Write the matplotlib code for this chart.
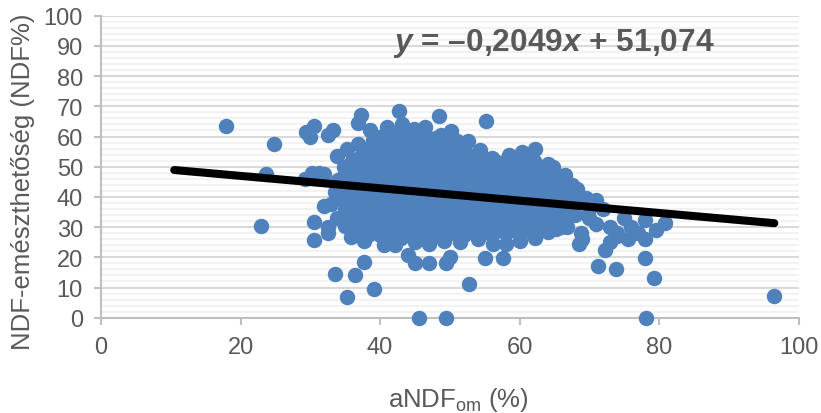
import matplotlib
matplotlib.use("Agg")
import matplotlib.pyplot as plt

plt.rcParams['font.family'] = ['Liberation Sans', 'DejaVu Sans']
plt.rcParams['mathtext.fontset'] = 'custom'
plt.rcParams['mathtext.rm'] = 'Liberation Sans'
plt.rcParams['mathtext.it'] = 'Liberation Sans:italic'
plt.rcParams['mathtext.bf'] = 'Liberation Sans:bold'
plt.rcParams['mathtext.bfit'] = 'Liberation Sans:italic:bold'

# outlying samples read individually
outlier_x = [17.9, 24.8, 23.6, 22.9, 29.4, 30.0, 30.6, 32.5, 33.3, 29.3, 30.3, 31.3, 32.0, 30.5, 30.5,
             32.6, 32.5, 32.0, 33.5, 36.4, 35.2, 37.7, 39.2, 45.6, 49.5, 78.1, 96.5, 52.8, 71.2, 73.8,
             78.0, 79.3, 55.2, 48.5, 42.7, 37.3, 36.9, 80.8, 79.5, 78.0, 75.0, 76.0, 77.0, 72.3, 73.0,
             74.0, 75.5, 78.0, 71.0, 72.0, 73.0, 74.0, 68.5, 69.0, 68.8, 70.0, 71.0, 44.0, 45.0, 47.0,
             49.5, 50.0, 55.0, 57.6, 35.8, 37.7, 40.5, 42.2]
outlier_y = [63.5, 57.5, 47.5, 30.3, 61.5, 60.0, 63.5, 60.5, 62.0, 46.0, 48.0, 48.0, 47.5, 31.7, 25.8,
             28.0, 30.0, 37.0, 14.5, 14.3, 6.7, 18.5, 9.5, 0.0, 0.0, 0.0, 7.3, 11.0, 17.0, 16.0,
             19.7, 13.3, 65.0, 66.7, 68.3, 67.0, 64.5, 31.5, 29.0, 32.5, 33.0, 30.0, 28.0, 22.5, 25.0,
             27.0, 26.0, 26.0, 39.0, 36.0, 30.0, 28.0, 24.5, 26.0, 28.0, 33.0, 31.0, 20.7, 18.0, 18.0,
             18.0, 20.0, 19.7, 19.7, 26.8, 25.5, 24.0, 24.0]

# dense central cloud, read band by band
cloud_x = [38.5, 41.0, 43.2, 44.8, 46.5, 48.8, 50.2,
           36.8, 39.0, 41.0, 43.0, 45.0, 47.0, 49.0, 51.0, 52.6,
           33.8, 35.2, 38.2, 40.0, 42.0, 44.0, 46.0, 48.0, 50.0, 52.0, 54.3, 56.5, 58.5, 60.3, 62.2,
           34.8, 37.0, 39.0, 41.0, 43.0, 45.0, 47.0, 49.0, 51.0, 53.0, 55.0, 57.0, 59.0, 61.0, 63.0, 64.8,
           34.0, 36.0, 38.0, 40.0, 42.0, 44.0, 46.0, 48.0, 50.0, 52.0, 54.0, 56.0, 58.0, 60.0, 62.0, 64.0, 66.5,
           33.5, 35.2, 37.2, 39.2, 41.2, 43.2, 45.2, 47.2, 49.2, 51.2, 53.2, 55.2, 57.2, 59.2, 61.2, 63.2, 65.2, 67.0, 68.2,
           33.0, 35.0, 37.0, 39.0, 41.0, 43.0, 45.0, 47.0, 49.0, 51.0, 53.0, 55.0, 57.0, 59.0, 61.0, 63.0, 65.0, 67.0, 69.0, 70.3,
           33.8, 36.0, 38.0, 40.0, 42.0, 44.0, 46.0, 48.0, 50.0, 52.0, 54.0, 56.0, 58.0, 60.0, 62.0, 64.0, 66.0, 68.0, 69.8,
           35.0, 37.2, 39.2, 41.2, 43.2, 45.2, 47.2, 49.2, 51.2, 53.2, 55.2, 57.2, 59.2, 61.2, 63.2, 65.2, 66.8,
           38.2, 40.5, 43.0, 45.0, 47.0, 49.2, 51.5, 54.0, 56.2, 58.0, 60.0, 62.2, 64.0]
cloud_y = [62.0, 63.0, 64.0, 62.5, 63.0, 60.5, 61.8,
           57.5, 59.0, 58.0, 60.0, 59.0, 59.5, 58.0, 58.5, 58.5,
           53.7, 56.0, 55.0, 54.0, 55.0, 56.0, 54.5, 55.0, 54.0, 54.5, 55.5, 52.0, 54.0, 55.0, 56.0,
           50.0, 50.5, 50.0, 51.0, 50.0, 50.5, 49.5, 50.0, 50.5, 50.0, 49.5, 51.0, 50.0, 49.5, 50.0, 50.0,
           45.5, 46.0, 45.0, 46.0, 45.0, 46.0, 45.0, 46.0, 45.0, 46.0, 45.5, 45.0, 46.0, 45.0, 46.0, 45.5, 47.3,
           41.5, 42.0, 41.0, 42.0, 41.0, 42.0, 41.0, 42.0, 41.0, 42.0, 41.0, 42.0, 41.0, 42.0, 41.0, 42.0, 41.0, 41.5, 42.5,
           37.5, 38.0, 37.0, 38.0, 37.0, 38.0, 37.0, 38.0, 37.0, 38.0, 37.0, 38.0, 37.0, 38.0, 37.0, 38.0, 37.0, 38.0, 38.5, 37.0,
           33.0, 34.0, 33.0, 34.0, 33.0, 34.0, 33.0, 34.0, 33.0, 34.0, 33.0, 34.0, 33.0, 34.0, 33.0, 34.0, 33.0, 34.0, 34.0,
           30.5, 29.5, 30.0, 29.0, 30.0, 29.0, 30.0, 29.0, 30.0, 29.0, 30.0, 29.0, 30.0, 29.0, 30.0, 29.5, 30.0,
           27.5, 26.0, 26.5, 25.0, 24.5, 25.5, 25.0, 26.0, 24.5, 24.5, 25.5, 26.5, 28.5]

# further samples packed between the bands of the cloud
fill_x = [40.0, 42.0, 44.0, 46.0, 48.0, 50.0,
          38.0, 40.0, 42.0, 44.0, 46.0, 48.0, 50.0, 52.0, 54.0, 56.0, 58.0, 60.0,
          36.0, 38.0, 40.0, 42.0, 44.0, 46.0, 48.0, 50.0, 52.0, 54.0, 56.0, 58.0, 60.0, 62.0, 64.0,
          35.0, 37.0, 39.0, 41.0, 43.0, 45.0, 47.0, 49.0, 51.0, 53.0, 55.0, 57.0, 59.0, 61.0, 63.0, 65.0,
          34.5, 36.0, 38.0, 40.0, 42.0, 44.0, 46.0, 48.0, 50.0, 52.0, 54.0, 56.0, 58.0, 60.0, 62.0, 64.0, 66.0, 67.5,
          34.0, 36.0, 38.0, 40.0, 42.0, 44.0, 46.0, 48.0, 50.0, 52.0, 54.0, 56.0, 58.0, 60.0, 62.0, 64.0, 66.0, 68.0, 69.5,
          35.0, 37.0, 39.0, 41.0, 43.0, 45.0, 47.0, 49.0, 51.0, 53.0, 55.0, 57.0, 59.0, 61.0, 63.0, 65.0, 67.0,
          37.0, 39.0, 41.0, 43.0, 45.0, 47.0, 49.0, 51.0, 53.0, 55.0, 57.0, 59.0, 61.0, 63.0, 65.0,
          40.0, 42.0, 44.0, 46.0, 48.0, 50.0, 52.0, 54.0, 56.0, 58.0, 60.0]
fill_y = [60.0, 61.0, 60.5, 60.0, 59.5, 60.0,
          56.0, 56.5, 57.0, 57.5, 57.0, 56.5, 56.0, 56.0, 54.5, 53.0, 52.0, 53.0,
          52.0, 52.5, 52.5, 52.0, 52.5, 52.5, 52.0, 52.5, 52.5, 52.0, 52.5, 52.0, 52.0, 52.0, 51.0,
          48.0, 48.0, 47.5, 48.0, 48.0, 47.5, 48.0, 48.0, 47.5, 48.0, 48.0, 47.5, 48.0, 48.0, 47.5, 48.0,
          43.5, 44.0, 43.5, 44.0, 43.5, 44.0, 43.5, 44.0, 43.5, 44.0, 43.5, 44.0, 43.5, 44.0, 43.5, 44.0, 43.5, 44.0,
          39.5, 40.0, 39.5, 40.0, 39.5, 40.0, 39.5, 40.0, 39.5, 40.0, 39.5, 40.0, 39.5, 40.0, 39.5, 40.0, 39.5, 40.0, 39.5,
          35.5, 36.0, 35.5, 36.0, 35.5, 36.0, 35.5, 36.0, 35.5, 36.0, 35.5, 36.0, 35.5, 36.0, 35.5, 36.0, 35.5,
          31.5, 32.0, 31.5, 32.0, 31.5, 32.0, 31.5, 32.0, 31.5, 32.0, 31.5, 32.0, 31.5, 32.0, 31.5,
          27.5, 28.0, 27.5, 28.0, 27.5, 28.0, 27.5, 28.0, 27.5, 28.0, 27.5]

# a last layer for the remaining pinholes of the cloud
core_x = [39.0, 41.0, 43.0, 45.0, 47.0, 49.0, 51.0, 53.0,
          37.0, 39.0, 41.0, 43.0, 45.0, 47.0, 49.0, 51.0, 53.0, 55.0, 57.0, 59.0, 61.0, 63.0,
          36.0, 38.0, 40.0, 42.0, 44.0, 46.0, 48.0, 50.0, 52.0, 54.0, 56.0, 58.0, 60.0, 62.0, 64.0, 66.0,
          35.0, 37.0, 39.0, 41.0, 43.0, 45.0, 47.0, 49.0, 51.0, 53.0, 55.0, 57.0, 59.0, 61.0, 63.0, 65.0,
          36.0, 38.0, 40.0, 42.0, 44.0, 46.0, 48.0, 50.0, 52.0, 54.0, 56.0, 58.0, 60.0, 62.0, 64.0, 66.0, 68.0,
          35.0, 37.0, 39.0, 41.0, 43.0, 45.0, 47.0, 49.0, 51.0, 53.0, 55.0, 57.0, 59.0, 61.0, 63.0, 65.0, 67.0,
          36.0, 38.0, 40.0, 42.0, 44.0, 46.0, 48.0, 50.0, 52.0, 54.0, 56.0, 58.0, 60.0, 62.0, 64.0, 66.0,
          41.0, 43.0, 45.0, 47.0, 49.0, 51.0, 53.0, 55.0, 57.0, 59.0]
core_y = [57.0, 55.0, 55.5, 55.0, 55.0, 55.5, 55.0, 53.0,
          53.0, 52.0, 53.5, 53.0, 53.0, 54.0, 53.0, 53.0, 52.5, 51.0, 50.0, 51.5, 52.0, 48.0,
          48.5, 50.0, 49.0, 49.0, 50.0, 49.0, 49.0, 49.5, 49.0, 49.0, 49.5, 48.5, 49.0, 49.0, 47.0, 44.0,
          46.0, 45.5, 45.5, 45.0, 45.5, 45.5, 45.0, 45.5, 45.5, 45.0, 45.5, 45.5, 45.0, 45.5, 45.5, 45.0,
          41.0, 41.5, 41.0, 41.5, 41.0, 41.5, 41.0, 41.5, 41.0, 41.5, 41.0, 41.5, 41.0, 41.5, 41.0, 41.5, 38.0,
          33.5, 33.5, 34.0, 33.5, 33.5, 34.0, 33.5, 33.5, 34.0, 33.5, 33.5, 34.0, 33.5, 33.5, 34.0, 33.5, 33.5,
          31.0, 30.0, 30.5, 30.0, 30.5, 30.0, 30.5, 30.0, 30.5, 30.0, 30.5, 30.0, 30.5, 30.0, 30.5, 30.0,
          29.0, 29.5, 29.0, 29.5, 29.0, 29.5, 29.0, 29.5, 29.0, 29.5]

trend_x = [10.5, 96.5]
trend_y = [48.9, 31.3]

x_ticks = [0, 20, 40, 60, 80, 100]
y_ticks = [0, 10, 20, 30, 40, 50, 60, 70, 80, 90, 100]
y_minor = [v for v in range(0, 101, 2) if v % 10]

equation = r'$\mathbfit{y}$ = –0,2049$\mathbfit{x}$ + 51,074'
x_label = r'aNDF$_{\mathrm{om}}$ (%)'
y_label = 'NDF-emészthetőség (NDF%)'

TEXT = '#595959'
fig = plt.figure(figsize=(8.21, 4.14), dpi=100)
ax = fig.add_axes([101 / 821, 1 - 318.7 / 414, 697.7 / 821, 302 / 414])
ax.set_xlim(0, 100)
ax.set_ylim(0, 100)

ax.set_yticks(y_minor, minor=True)
ax.set_yticks(y_ticks)
ax.set_xticks(x_ticks)
ax.grid(True, which='major', axis='y', color='#D9D9D9', lw=1.5)
ax.grid(True, which='minor', axis='y', color='#F2F2F2', lw=1.5)
ax.set_axisbelow(True)
ax.tick_params(axis='y', which='minor', length=0)
ax.tick_params(axis='both', which='major', length=5, width=1.5, color='#BFBFBF',
               labelsize=17, labelcolor=TEXT, pad=8)
for s in ('top', 'right'):
    ax.spines[s].set_visible(False)
for s in ('left', 'bottom'):
    ax.spines[s].set_color('#BFBFBF')
    ax.spines[s].set_linewidth(1.5)

for xs, ys in ((cloud_x, cloud_y), (fill_x, fill_y), (core_x, core_y), (outlier_x, outlier_y)):
    ax.scatter(xs, ys, s=124, color='#4F81BD', linewidths=0, zorder=3, clip_on=False)
ax.plot(trend_x, trend_y, color='black', lw=5.8, solid_capstyle='round', zorder=4)

fig.text(393 / 821, 1 - 43 / 414, equation, fontsize=22.8, fontweight='bold', color=TEXT,
         ha='left', va='center')
fig.text(458 / 821, 1 - 400.5 / 414, x_label, fontsize=18.5, color=TEXT, ha='center', va='center')
fig.text(23 / 821, 1 - 182 / 414, y_label, fontsize=18.5, color=TEXT, rotation=90, ha='center', va='center')

fig.savefig('out.png', dpi=100)
